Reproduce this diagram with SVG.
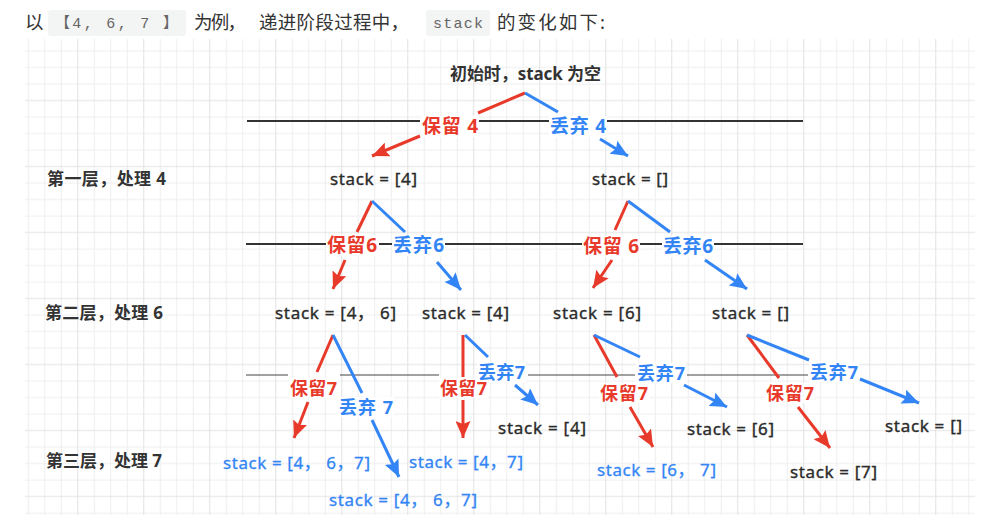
<svg xmlns="http://www.w3.org/2000/svg" width="992" height="524" viewBox="0 0 992 524">
<style>
.p{font:18.5px "Noto Sans","Noto Sans CJK SC",sans-serif;fill:#333}
.code{font:15px "Liberation Mono","Noto Sans CJK SC",monospace;fill:#666}
.cb{fill:#f3f4f4}
.n{font:17px "Noto Sans","Noto Sans CJK SC",sans-serif;fill:#2b2b2b;stroke:#2b2b2b;stroke-width:0.35}
.nb{font:17px "Noto Sans","Noto Sans CJK SC",sans-serif;fill:#3385f5;stroke:#3385f5;stroke-width:0.3}
.lv{font:bold 17px "Noto Sans","Noto Sans CJK SC",sans-serif;fill:#333}
.lr{font:bold 19px "Noto Sans","Noto Sans CJK SC",sans-serif;fill:#e83a2b}
.lb{font:bold 19px "Noto Sans","Noto Sans CJK SC",sans-serif;fill:#3385f5}
.s3{font-size:18px}
.bg{fill:#fff}
.r{stroke:#e83a2b;stroke-width:3;fill:none}
.b{stroke:#3385f5;stroke-width:3;fill:none}
.ra{stroke:#e83a2b;stroke-width:3;fill:none;marker-end:url(#mr)}
.ba{stroke:#3385f5;stroke-width:3;fill:none;marker-end:url(#mb)}
.sep{stroke:#333;stroke-width:2;fill:none}
.sep3{stroke:#444;stroke-width:1.2;fill:none}
</style>
<defs>
<pattern id="grid" x="20.05" y="42.75" width="66" height="66" patternUnits="userSpaceOnUse">
<path d="M8.25,0V66M24.75,0V66M41.25,0V66M0,8.25H66M0,24.75H66M0,41.25H66" stroke="#eeeeee" stroke-width="1" fill="none"/>
<path d="M57.75,0V66M0,57.75H66" stroke="#e2e2e2" stroke-width="1" fill="none"/>
</pattern>
<marker id="mr" markerUnits="userSpaceOnUse" markerWidth="18" markerHeight="15" refX="17" refY="7.5" orient="auto" viewBox="0 0 18 15">
<path d="M0,0 L17,7.5 L0,15 L3,7.5 z" fill="#e83a2b"/>
</marker>
<marker id="mb" markerUnits="userSpaceOnUse" markerWidth="18" markerHeight="15" refX="17" refY="7.5" orient="auto" viewBox="0 0 18 15">
<path d="M0,0 L17,7.5 L0,15 L3,7.5 z" fill="#3385f5"/>
</marker>
</defs>
<rect width="992" height="524" fill="#fff"/>
<rect x="25" y="39" width="950" height="476" fill="url(#grid)"/>

<g id="intro">
<text class="p" x="25" y="29">以</text>
<rect class="cb" x="48" y="10" width="138" height="26" rx="3"/>
<text class="code" x="55" y="28" textLength="123" lengthAdjust="spacing">【4, 6, 7 】</text>
<text class="p" x="194" y="29" textLength="52" lengthAdjust="spacing">为例，</text>
<text class="p" x="259" y="29" textLength="150" lengthAdjust="spacing">递进阶段过程中，</text>
<rect class="cb" x="426" y="10" width="64" height="26" rx="3"/>
<text class="code" x="433" y="28" textLength="50" lengthAdjust="spacing">stack</text>
<text class="p" x="497" y="29" textLength="108" lengthAdjust="spacing">的变化如下:</text>
</g>

<g id="separators">
<path class="sep" d="M247,121H420M478,121H549M607,121H803"/>
<path class="sep" d="M246,244H327M379,244H392M445,244H583M640,244H662M713,244H803"/>
<path class="sep3" d="M246,375H288M340,375H439M528,375H635M687,375H808"/>
</g>

<g id="connectors">
<path class="r" d="M525,93L478,113"/><path class="ra" d="M420,136L372,156"/>
<path class="b" d="M525,93L558,112"/><path class="ba" d="M600,139L628,156"/>
<path class="r" d="M372,201L357,232"/><path class="ra" d="M345,260L333,289"/>
<path class="b" d="M372,201L405,232"/><path class="ba" d="M437,262L461,290"/>
<path class="r" d="M628,201L615,230"/><path class="ra" d="M612,260L593,288"/>
<path class="b" d="M628,201L670,232"/><path class="ba" d="M705,260L747,289"/>
<path class="r" d="M333,335L317,372"/><path class="ra" d="M308,402L294,438"/>
<path class="b" d="M333,335L362,393"/><path class="ba" d="M372,420L399,477"/>
<path class="r" d="M463,335L463,377"/><path class="ra" d="M463,400L463,438"/>
<path class="b" d="M465,335L488,357"/><path class="ba" d="M515,385L538,405"/>
<path class="r" d="M594,335L617,377"/><path class="ra" d="M630,407L653,447"/>
<path class="b" d="M594,335L640,357"/><path class="ba" d="M684,385L727,407"/>
<path class="r" d="M747,335L779,378"/><path class="ra" d="M798,407L830,448"/>
<path class="b" d="M747,335L809,360"/><path class="ba" d="M860,379L919,403"/>

<g id="edge-labels">
<rect class="bg" x="421" y="116" width="58" height="21"/><text class="lr" x="422" y="133" textLength="56" lengthAdjust="spacing">保留 4</text>
<rect class="bg" x="549" y="116" width="58" height="21"/><text class="lb" x="550" y="133" textLength="56" lengthAdjust="spacing">丢弃 4</text>
<rect class="bg" x="326" y="235" width="52" height="21"/><text class="lr" x="327" y="252" textLength="50" lengthAdjust="spacing">保留6</text>
<rect class="bg" x="392" y="235" width="53" height="21"/><text class="lb" x="393" y="252" textLength="51" lengthAdjust="spacing">丢弃6</text>
<rect class="bg" x="582" y="236" width="58" height="21"/><text class="lr" x="583" y="253" textLength="56" lengthAdjust="spacing">保留 6</text>
<rect class="bg" x="662" y="236" width="52" height="21"/><text class="lb" x="663" y="253" textLength="50" lengthAdjust="spacing">丢弃6</text>
<rect class="bg" x="289" y="378" width="49" height="20"/><text class="lr s3" x="290" y="394.5" textLength="47" lengthAdjust="spacing">保留7</text>
<rect class="bg" x="338" y="397" width="56" height="20"/><text class="lb s3" x="339" y="413.5" textLength="54" lengthAdjust="spacing">丢弃 7</text>
<rect class="bg" x="439" y="378" width="49" height="20"/><text class="lr s3" x="440" y="394.5" textLength="47" lengthAdjust="spacing">保留7</text>
<rect class="bg" x="477" y="362" width="49" height="20"/><text class="lb s3" x="478" y="378.5" textLength="47" lengthAdjust="spacing">丢弃7</text>
<rect class="bg" x="599" y="383" width="50" height="20"/><text class="lr s3" x="600" y="399.5" textLength="48" lengthAdjust="spacing">保留7</text>
<rect class="bg" x="636" y="363" width="50" height="20"/><text class="lb s3" x="637" y="379.5" textLength="48" lengthAdjust="spacing">丢弃7</text>
<rect class="bg" x="765" y="383" width="50" height="20"/><text class="lr s3" x="766" y="399.5" textLength="48" lengthAdjust="spacing">保留7</text>
<rect class="bg" x="809" y="362" width="50" height="20"/><text class="lb s3" x="810" y="378.5" textLength="48" lengthAdjust="spacing">丢弃7</text>
</g>
</g>

<g id="root"><text class="lv" x="450" y="80" textLength="151" lengthAdjust="spacing">初始时，stack 为空</text></g>
<g id="level1"><text class="lv" x="47" y="185" textLength="119" lengthAdjust="spacing">第一层，处理 4</text></g>
<g id="level2"><text class="lv" x="45" y="319" textLength="118" lengthAdjust="spacing">第二层，处理 6</text></g>
<g id="level3"><text class="lv" x="46" y="467" textLength="116" lengthAdjust="spacing">第三层，处理 7</text></g>

<g id="n1a"><text class="n" x="330" y="185" textLength="87" lengthAdjust="spacing">stack = [4]</text></g>
<g id="n1b"><text class="n" x="592" y="185" textLength="76" lengthAdjust="spacing">stack = []</text></g>
<g id="n2a"><text class="n" x="275" y="319" textLength="121" lengthAdjust="spacing">stack = [4， 6]</text></g>
<g id="n2b"><text class="n" x="422" y="319" textLength="87" lengthAdjust="spacing">stack = [4]</text></g>
<g id="n2c"><text class="n" x="553" y="319" textLength="88" lengthAdjust="spacing">stack = [6]</text></g>
<g id="n2d"><text class="n" x="712" y="319" textLength="77" lengthAdjust="spacing">stack = []</text></g>
<g id="n3a"><text class="nb" x="223" y="469" textLength="147" lengthAdjust="spacing">stack = [4， 6，7]</text></g>
<g id="n3b"><text class="nb" x="329" y="506" textLength="148" lengthAdjust="spacing">stack = [4， 6，7]</text></g>
<g id="n3c"><text class="nb" x="409" y="468" textLength="114" lengthAdjust="spacing">stack = [4，7]</text></g>
<g id="n3d"><text class="n" x="498" y="434" textLength="88" lengthAdjust="spacing">stack = [4]</text></g>
<g id="n3e"><text class="nb" x="597" y="476" textLength="119" lengthAdjust="spacing">stack = [6， 7]</text></g>
<g id="n3f"><text class="n" x="687" y="435" textLength="87" lengthAdjust="spacing">stack = [6]</text></g>
<g id="n3g"><text class="n" x="790" y="478" textLength="87" lengthAdjust="spacing">stack = [7]</text></g>
<g id="n3h"><text class="n" x="885" y="432" textLength="77" lengthAdjust="spacing">stack = []</text></g>
</svg>
